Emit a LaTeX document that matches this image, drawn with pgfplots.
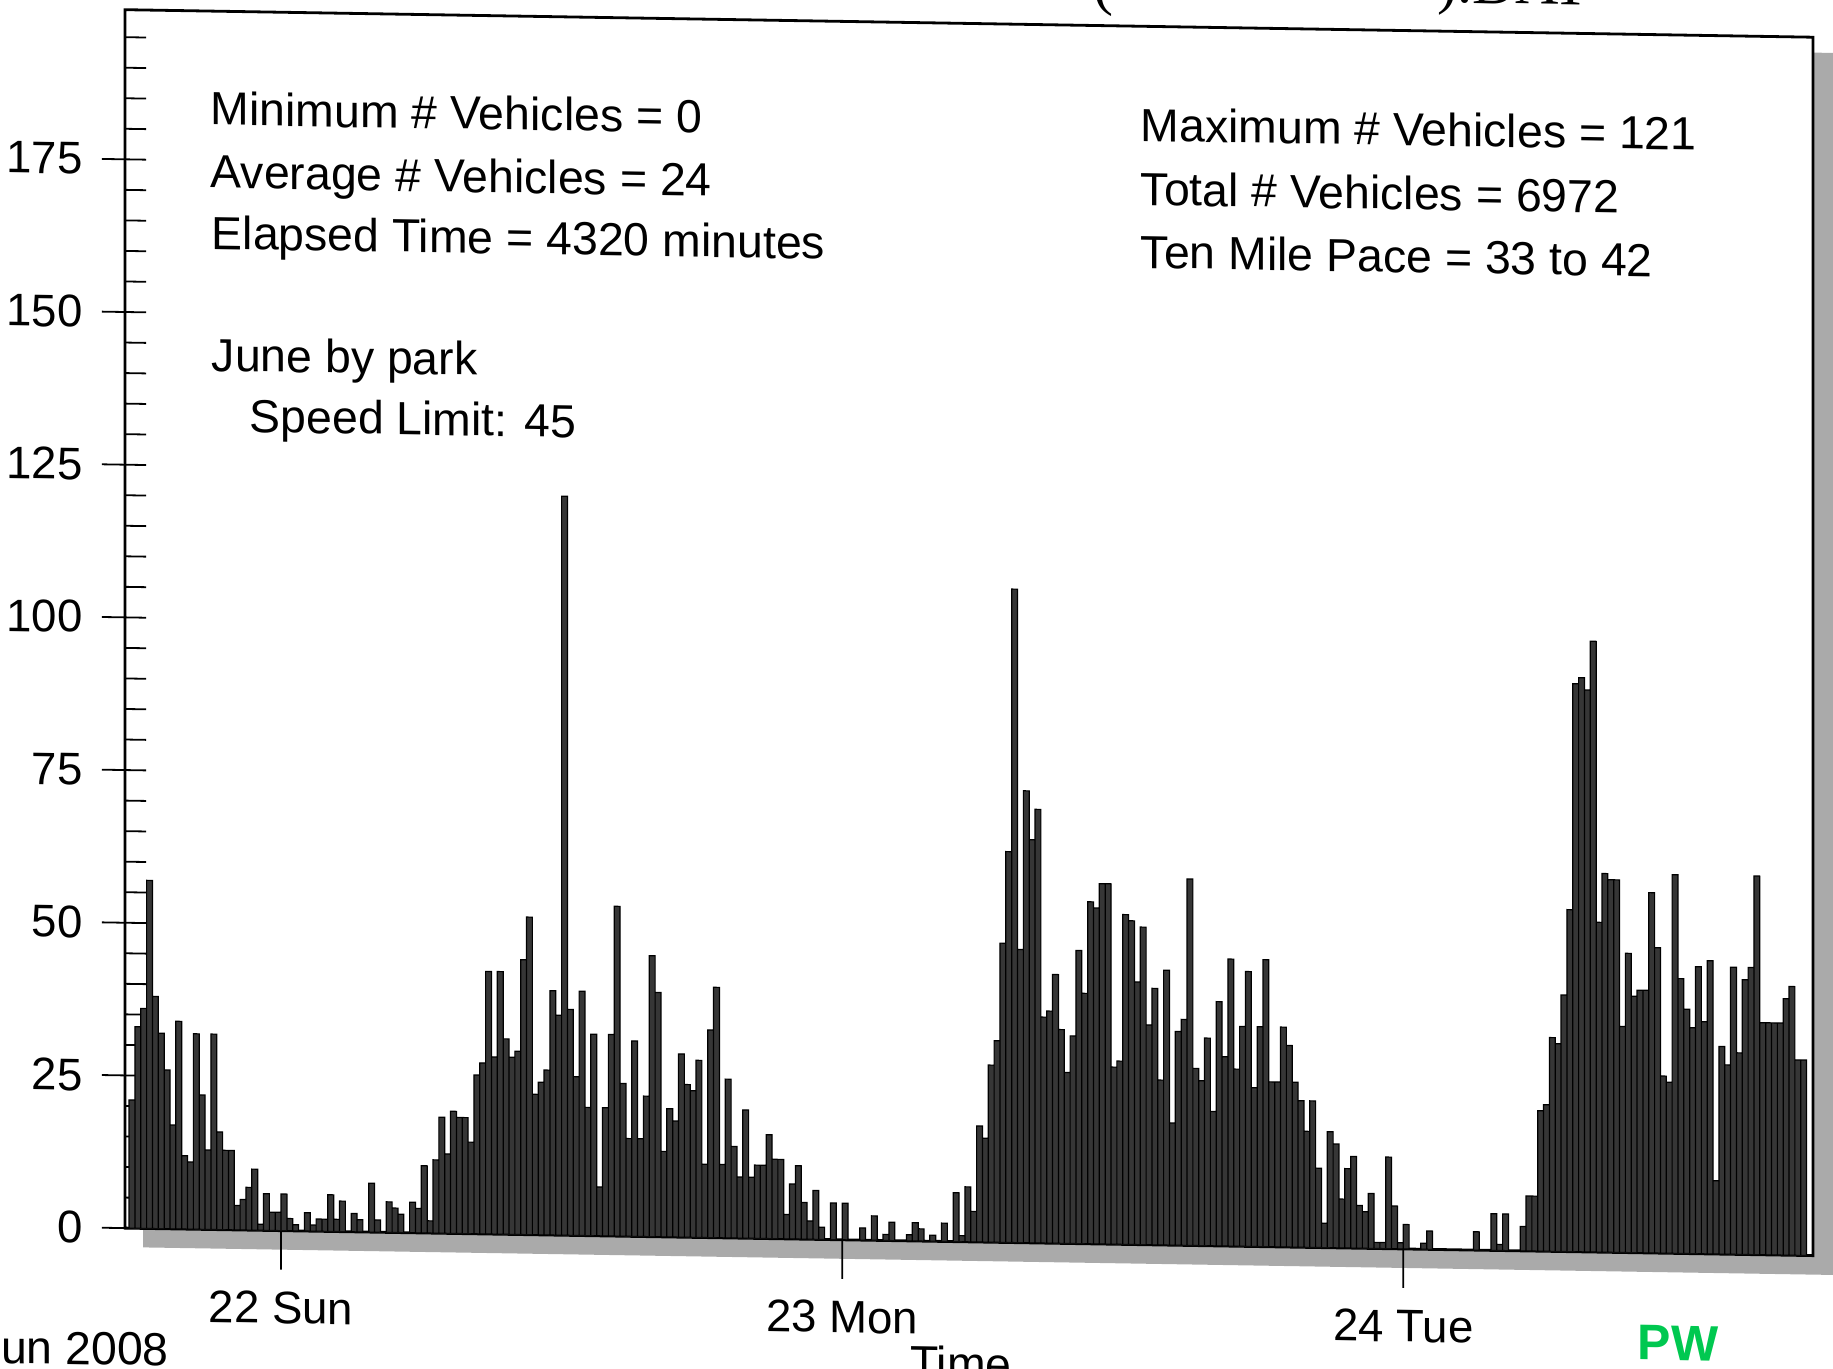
\documentclass[border=0pt]{standalone}
\usepackage{pgfplots}
\pgfplotsset{compat=1.18}
\usepackage{fontspec}
\setmainfont{Liberation Sans}
\newfontfamily\seriffont{Liberation Serif}
\definecolor{pwgreen}{RGB}{0,200,80}
\definecolor{barfill}{RGB}{54,54,54}
\definecolor{shadowgray}{RGB}{170,170,170}
\begin{document}
\begin{tikzpicture}
\useasboundingbox (0,0) rectangle (458.25pt,342.25pt);
% the scanned original is slightly skewed: reproduce it with a small vertical shear
\begin{scope}[transform canvas={yshift=3.73pt, yslant=-0.0163}]
% drop shadow of the plot box
\begin{scope}[x=0.25pt,y=-0.25pt,shift={(0pt,342.25pt)}]
\fill[shadowgray] (143,38) rectangle (1840,1260);
\end{scope}
\begin{axis}[
  at={(31.25pt,32pt)}, anchor=south west,
  scale only axis, width=422pt, height=304.6pt,
  xmin=-0.7, xmax=288.1, ymin=0, ymax=199.5,
  axis line style={line width=0.7pt, black},
  axis background/.style={fill=white},
  xtick=\empty,
  ytick={0,5,...,195}, yticklabels={},
  tick align=inside, major tick length=5.25pt,
  xtick pos=bottom, ytick pos=left,
  every tick/.style={black, line width=0.45pt},
  extra x ticks={26,122,218},
  extra x tick labels={22 Sun,23 Mon,24 Tue},
  extra x tick style={tick align=outside, major tick length=9.75pt},
  extra y ticks={0,25,...,175},
  extra y tick labels={0,25,50,75,100,125,150,175},
  extra y tick style={tick align=outside, major tick length=5.75pt},
  tick label style={font=\fontsize{11.4}{13}\selectfont},
  yticklabel style={xshift=-1.3pt},
  xticklabel style={yshift=-2pt},
  /pgf/number format/assume math mode=true,
]
\addplot[ybar, bar width=1, bar shift=0pt, fill=barfill, draw=black, line width=0.3pt]
  table[row sep=\\, header=false, x expr=\coordindex+0.5, y index=0] {
21\\33\\36\\57\\38\\32\\26\\17\\34\\12\\11\\32\\22\\13\\32\\16\\13\\13\\4\\5\\7\\10\\1\\6\\3\\3\\6\\2\\1\\0\\3\\1\\
2\\2\\6\\2\\5\\0\\3\\2\\0\\8\\2\\0\\5\\4\\3\\0\\5\\4\\11\\2\\12\\19\\13\\20\\19\\19\\15\\26\\28\\43\\29\\43\\32\\
29\\30\\45\\52\\23\\25\\27\\40\\36\\121\\37\\26\\40\\21\\33\\8\\21\\33\\54\\25\\16\\32\\16\\23\\46\\40\\14\\21\\19\\30\\25\\24\\29\\
12\\34\\41\\12\\26\\15\\10\\21\\10\\12\\12\\17\\13\\13\\4\\9\\12\\6\\3\\8\\2\\0\\6\\0\\6\\0\\0\\2\\0\\4\\0\\1\\
3\\0\\0\\1\\3\\2\\0\\1\\0\\3\\0\\8\\1\\9\\5\\19\\17\\29\\33\\49\\64\\107\\48\\74\\66\\71\\37\\38\\44\\35\\28\\34\\48\\
41\\56\\55\\59\\59\\29\\30\\54\\53\\43\\52\\36\\42\\27\\45\\20\\35\\37\\60\\29\\27\\34\\22\\40\\31\\47\\29\\36\\45\\26\\36\\47\\
27\\27\\36\\33\\27\\24\\19\\24\\13\\4\\19\\17\\8\\13\\15\\7\\6\\9\\1\\1\\15\\7\\1\\4\\0\\0\\1\\3\\0\\0\\0\\0\\
0\\0\\0\\3\\0\\0\\6\\1\\6\\0\\0\\4\\9\\9\\23\\24\\35\\34\\42\\56\\93\\94\\92\\100\\54\\62\\61\\61\\37\\49\\42\\43\\43\\
59\\50\\29\\28\\62\\45\\40\\37\\47\\38\\48\\12\\34\\31\\47\\33\\45\\47\\62\\38\\38\\38\\38\\42\\44\\32\\32\\
};
\end{axis}
\begin{scope}[x=0.25pt,y=-0.25pt,shift={(0pt,342.25pt)},
  every node/.style={inner sep=0pt, anchor=base west, font=\fontsize{11.6}{14}\selectfont}]
\node at (210,136.5) {Minimum \# Vehicles = 0};
\node at (210,199.5) {Average \# Vehicles = 24};
\node at (211,260.5) {Elapsed Time = 4320 minutes};
\node at (211,382.5) {June by park};
\node at (249,443) {Speed Limit: 45};
\node at (1140,137.5) {Maximum \# Vehicles = 121};
\node at (1140,201.5) {Total \# Vehicles = 6972};
\node at (1140,264.5) {Ten Mile Pace = 33 to 42};
\node[anchor=base] at (961,1379) {Time};
\node at (-23,1378) {Jun 2008};
\node[font=\bfseries\fontsize{12.5}{14}\selectfont, text=pwgreen] at (1637,1348) {PW};
\node[font=\seriffont\fontsize{15}{17}\selectfont] at (1093,1) {(};
\node[anchor=base east, font=\seriffont\fontsize{15}{17}\selectfont] at (1590,-6) {).DAT};
\end{scope}
\end{scope}
\end{tikzpicture}
\end{document}
